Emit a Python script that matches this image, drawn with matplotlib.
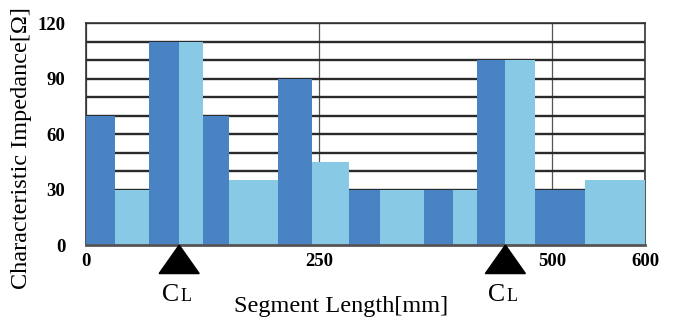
import matplotlib
matplotlib.use('Agg')
import matplotlib.pyplot as plt
import matplotlib.transforms as mtransforms
from matplotlib.patches import Polygon

# segment boundaries along the line [mm] and impedance of each segment [ohm]
seg_edges = [0, 31, 68, 100, 126, 153, 206, 242, 282, 315, 363, 394, 420, 450, 482, 535, 600]
impedance = [70, 30, 110, 110, 70, 35, 90, 45, 30, 30, 30, 30, 100, 100, 30, 35]
cl_pos = [100, 450]
x_ticks = [0, 250, 500, 600]
y_ticks = [0, 30, 60, 90, 120]

dark = '#4A83C4'
light = '#88C9E6'

plt.rcParams['font.family'] = ['Liberation Serif', 'DejaVu Serif']

fig = plt.figure(figsize=(6.77, 3.2), dpi=100)
ax = fig.add_axes([0.127, 0.234, 0.826, 0.694])

lefts = seg_edges[:-1]
widths = [b - a for a, b in zip(seg_edges[:-1], seg_edges[1:])]
colors = [dark if i % 2 == 0 else light for i in range(len(impedance))]
ax.bar(lefts, impedance, width=widths, align='edge', color=colors,
       linewidth=0, zorder=3)

ax.set_xlim(0, 600)
ax.set_ylim(0, 120)
ax.set_xticks(x_ticks)
ax.set_yticks(y_ticks)
ax.set_yticks(range(0, 121, 10), minor=True)
ax.tick_params(which='both', length=0)
ax.tick_params(axis='y', pad=15, labelsize=13.5)
ax.tick_params(axis='x', pad=6, labelsize=13.5)
for lab in ax.get_xticklabels() + ax.get_yticklabels():
    lab.set_fontweight('bold')

ax.yaxis.grid(True, which='both', color='#2a2a2a', linewidth=1.7, zorder=1)
ax.xaxis.grid(True, which='major', color='#555555', linewidth=0.9, zorder=1)
ax.set_axisbelow(True)

for side in ['top', 'right', 'left']:
    ax.spines[side].set_color('#333333')
    ax.spines[side].set_linewidth(1.2)
ax.spines['bottom'].set_color('#555555')
ax.spines['bottom'].set_linewidth(2)
ax.spines['bottom'].set_zorder(4)

ax.set_xlabel('Segment Length[mm]', fontsize=17.5)
ax.set_ylabel('Characteristic Impedance[\u03a9]', fontsize=17.5)
ax.xaxis.set_label_coords((341 - 86) / 559, (245 - 306) / 222)
ax.yaxis.set_label_coords((22 - 86) / 559, (245 - 148) / 222)
ax.xaxis.label.set_va('center')
ax.yaxis.label.set_va('center')

# centre line markers under the axis
trans = mtransforms.blended_transform_factory(ax.transData, ax.transAxes)
for c in cl_pos:
    tri = Polygon([(c - 21.5, -0.128), (c + 21.5, -0.128), (c, 0)],
                  closed=True, transform=trans, color='black',
                  clip_on=False, zorder=5)
    ax.add_patch(tri)
    ax.text(c, -0.25, 'C', transform=trans, ha='right', va='baseline',
            fontsize=18.5)
    ax.text(c + 1.5, -0.25, 'L', transform=trans, ha='left', va='baseline',
            fontsize=13)

fig.savefig('out.png', dpi=100)
